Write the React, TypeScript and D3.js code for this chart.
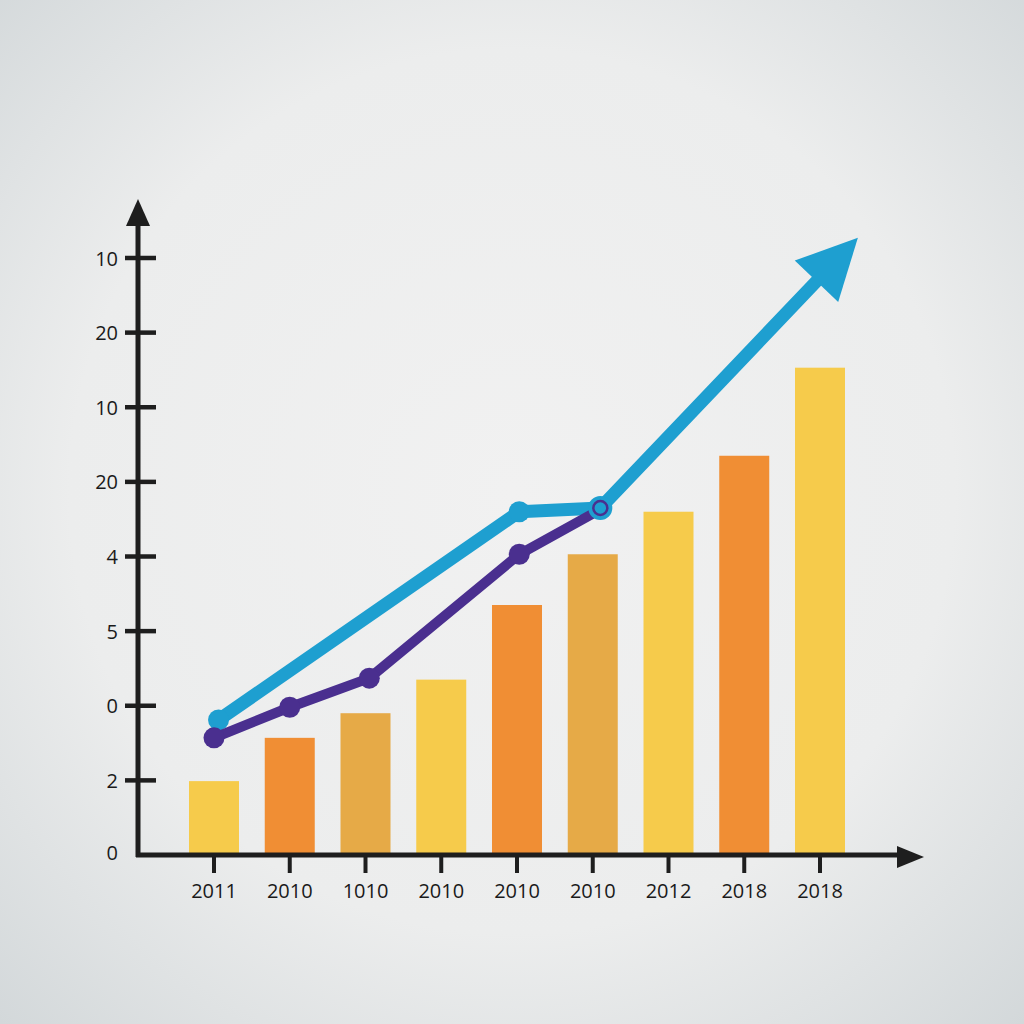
import React from "react";
import * as d3 from "d3";

const categories = ["2011", "2010", "1010", "2010", "2010", "2010", "2012", "2018", "2018"];
const barValues = [0.99, 1.57, 1.9, 2.35, 3.35, 4.03, 4.6, 5.35, 6.53];
const barColors = ["#F6CB4B", "#F08E34", "#E6AA47", "#F6CB4B", "#F08E34", "#E6AA47", "#F6CB4B", "#F08E34", "#F6CB4B"];
const yTickLabels = ["0", "2", "0", "5", "4", "20", "10", "20", "10"];
const yTickValues = [0, 1, 2, 3, 4, 5, 6, 7, 8];

const purpleX = [0, 1, 2.05, 4.03, 5.12];
const purpleY = [1.57, 1.98, 2.37, 4.03, 4.64];
const blueX = [0.06, 4.03, 5.1];
const blueY = [1.81, 4.6, 4.65];
const arrowTip = { x: 8.5, y: 8.27 };

const W = 1024;
const H = 1024;

export default function App() {
  const x = d3.scaleLinear().domain([0, 8]).range([214, 820]);
  const y = d3.scaleLinear().domain([0, 8]).range([855, 258]);
  const barW = 50;
  const axisX = 138;
  const axisY = 855;

  const line = d3.line<[number, number]>().x((d) => x(d[0])).y((d) => y(d[1]));
  const purplePts: [number, number][] = purpleX.map((v, i) => [v, purpleY[i]]);
  const bluePts: [number, number][] = blueX.map((v, i) => [v, blueY[i]]);

  // arrow geometry
  const last = bluePts[bluePts.length - 1];
  const lx = x(last[0]), ly = y(last[1]);
  const tx = x(arrowTip.x), ty = y(arrowTip.y);
  const dx = tx - lx, dy = ty - ly;
  const len = Math.hypot(dx, dy);
  const ux = dx / len, uy = dy / len;
  const headLen = 60, headHalf = 30;
  const bx = tx - ux * headLen, by = ty - uy * headLen;
  const px = -uy, py = ux;
  const head = [
    [tx, ty],
    [bx + px * headHalf, by + py * headHalf],
    [bx - px * headHalf, by - py * headHalf],
  ];
  const shaftEnd = [bx + ux * 4, by + uy * 4];
  const bluePath = line(bluePts) + `L${shaftEnd[0]},${shaftEnd[1]}`;

  const font = "'Open Sans', 'Noto Sans', sans-serif";

  return (
    <svg width={W} height={H} style={{ position: "absolute", left: 0, top: 0 }}>
      <defs>
        <radialGradient id="bg" cx="50%" cy="48%" r="72%">
          <stop offset="0%" stopColor="#F1F1F1" />
          <stop offset="60%" stopColor="#ECEDED" />
          <stop offset="100%" stopColor="#D3D8DA" />
        </radialGradient>
      </defs>
      <rect x={0} y={0} width={W} height={H} fill="url(#bg)" />

      {/* bars */}
      {barValues.map((v, i) => (
        <rect
          key={i}
          x={x(i) - barW / 2}
          y={y(v)}
          width={barW}
          height={y(0) - y(v)}
          fill={barColors[i]}
        />
      ))}

      {/* axes */}
      <line x1={axisX} y1={axisY + 2} x2={axisX} y2={222} stroke="#1E1E1E" strokeWidth={5} />
      <polygon points={`${axisX},199 ${axisX - 12},226 ${axisX + 12},226`} fill="#1E1E1E" />
      <line x1={axisX - 2} y1={axisY} x2={900} y2={axisY} stroke="#1E1E1E" strokeWidth={5} />
      <polygon points={`924,857 897,846 897,868`} fill="#1E1E1E" />

      {/* y ticks */}
      {yTickValues.map((v, i) => (
        <g key={i}>
          {v > 0 && (
            <line x1={125} x2={156} y1={y(v)} y2={y(v)} stroke="#1E1E1E" strokeWidth={4.5} />
          )}
          <text
            x={118}
            y={v > 0 ? y(v) : 852}
            textAnchor="end"
            dominantBaseline="central"
            fontFamily={font}
            fontSize={20}
            fill="#1A1A1A"
          >
            {yTickLabels[i]}
          </text>
        </g>
      ))}

      {/* x ticks */}
      {categories.map((c, i) => (
        <g key={i}>
          <line x1={x(i)} x2={x(i)} y1={axisY} y2={873} stroke="#1E1E1E" strokeWidth={4} />
          <text
            x={x(i)}
            y={890}
            textAnchor="middle"
            dominantBaseline="central"
            fontFamily={font}
            fontSize={20}
            fill="#1A1A1A"
          >
            {c}
          </text>
        </g>
      ))}

      {/* blue line with arrow */}
      <path d={bluePath} fill="none" stroke="#1E9FD0" strokeWidth={13} strokeLinejoin="round" />
      <polygon points={head.map((p) => p.join(",")).join(" ")} fill="#1E9FD0" />
      {bluePts.slice(0, 2).map((p, i) => (
        <circle key={i} cx={x(p[0])} cy={y(p[1])} r={10.5} fill="#1E9FD0" />
      ))}

      {/* purple line */}
      <path d={line(purplePts) || ""} fill="none" stroke="#4A2F8F" strokeWidth={10} strokeLinejoin="round" />
      {purplePts.slice(0, 4).map((p, i) => (
        <circle key={i} cx={x(p[0])} cy={y(p[1])} r={10.5} fill="#4A2F8F" />
      ))}

      {/* blue end ring marker */}
      <circle cx={lx} cy={ly} r={12} fill="#1E9FD0" />
      <circle cx={lx} cy={ly} r={7} fill="#1E9FD0" stroke="#4A2F8F" strokeWidth={2.5} />
    </svg>
  );
}
